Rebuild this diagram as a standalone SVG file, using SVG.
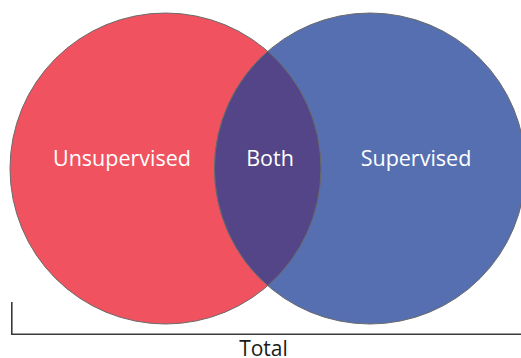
<svg xmlns="http://www.w3.org/2000/svg" width="521" height="358" viewBox="0 0 521 358">
  <style>
    .set { stroke: #6a6a6a; stroke-width: 1; }
    .lbl { font-family: "Open Sans", "Liberation Sans", sans-serif; font-size: 21.5px; fill: #ffffff; text-anchor: middle; }
    .axis { stroke: #3a3a3a; stroke-width: 1.6; fill: none; }
    .axlbl { font-family: "Open Sans", "Liberation Sans", sans-serif; font-size: 21px; fill: #1a1a1a; text-anchor: middle; }
  </style>
  <rect width="521" height="358" fill="#ffffff"/>
  <g id="unsupervised">
    <circle class="set" cx="165.5" cy="168.5" r="155.5" fill="#F0535F"/>
  </g>
  <g id="supervised">
    <circle class="set" cx="370" cy="168.5" r="155.5" fill="#566FB1"/>
  </g>
  <g id="both">
    <path class="set" d="M 267.75 51.35 A 155.5 155.5 0 0 1 267.75 285.65 A 155.5 155.5 0 0 1 267.75 51.35 Z" fill="#534587"/>
  </g>
  <g id="labels">
    <text class="lbl" x="122" y="165.5">Unsupervised</text>
    <text class="lbl" x="270" y="165.5">Both</text>
    <text class="lbl" x="416" y="165.5">Supervised</text>
  </g>
  <g id="axis">
    <path class="axis" d="M 11.8 302 L 11.8 334.3 L 521 334.3"/>
    <text class="axlbl" x="263.5" y="355.5">Total</text>
  </g>
</svg>
